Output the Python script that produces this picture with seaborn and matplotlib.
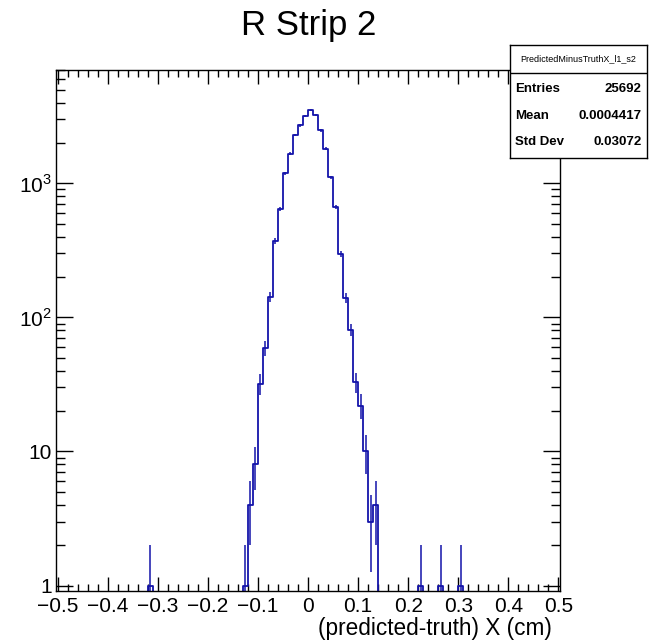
import numpy as np
import pandas as pd
import seaborn as sns
import matplotlib.pyplot as plt
from matplotlib.ticker import MultipleLocator, LogLocator, FuncFormatter, NullFormatter

# lower edge of each non-empty bin (bin width 0.01) and its content
bin_low = [-0.32, -0.13, -0.12, -0.11, -0.10, -0.09, -0.08, -0.07, -0.06, -0.05,
           -0.04, -0.03, -0.02, -0.01, 0.00, 0.01, 0.02, 0.03, 0.04, 0.05,
           0.06, 0.07, 0.08, 0.09, 0.10, 0.11, 0.12, 0.13, 0.22, 0.26, 0.30]
counts = [1, 1, 4, 8, 32, 59, 143, 370, 645, 1190,
          1660, 2300, 2700, 3170, 3541, 3210, 2480, 1810, 1110, 665,
          298, 139, 81, 33, 22, 10, 3, 4, 1, 1, 1]

hist_name = "PredictedMinusTruthX_l1_s2"
stat_names = ["Entries", "Mean", "Std Dev"]
stat_values = ["25692", "0.0004417", "0.03072"]

title = "R Strip 2"
xlabel = "(predicted-truth) X (cm)"

sns.set_style("ticks")
plt.rcParams["font.family"] = ["Liberation Sans", "DejaVu Sans"]
plt.rcParams["mathtext.fontset"] = "custom"
plt.rcParams["mathtext.rm"] = "Liberation Sans"
plt.rcParams["text.color"] = "black"

blue = "#1414aa"
width = 0.01
edges = np.round(np.arange(-0.52, 0.52 + width / 2, width), 3).tolist()
df = pd.DataFrame({"x": np.array(bin_low) + width / 2, "n": counts})

fig = plt.figure(figsize=(6.49, 6.44), dpi=100)
ax = fig.add_axes([56 / 649, 53 / 644, 504 / 649, 521 / 644])

sns.histplot(data=df, x="x", weights="n", bins=edges, element="step", fill=False,
             color=blue, linewidth=1.3, ax=ax)
ax.set_yscale("log")

# poisson error bars, ROOT style
err = np.sqrt(df["n"])
ax.vlines(df["x"], np.maximum(df["n"] - err, 1e-3), df["n"] + err, color=blue, lw=1.1)

ax.set_xlim(-0.503, 0.503)
ax.set_ylim(0.91, 7000)
ax.set_xlabel("")
ax.set_ylabel("")

ax.xaxis.set_major_locator(MultipleLocator(0.1))
ax.xaxis.set_minor_locator(MultipleLocator(0.02))
ax.xaxis.set_major_formatter(FuncFormatter(
    lambda v, p: ("%g" % round(v, 2)).replace("-", "\u2212") if abs(v) > 1e-9 else "0"))

ylabels = {1: "1", 10: "10", 100: "$10^{2}$", 1000: "$10^{3}$"}
ax.yaxis.set_major_locator(LogLocator(base=10))
ax.yaxis.set_minor_locator(LogLocator(base=10, subs=np.arange(2, 10)))
ax.yaxis.set_major_formatter(FuncFormatter(lambda v, p: ylabels.get(int(round(v)), "")))
ax.yaxis.set_minor_formatter(NullFormatter())

ax.tick_params(which="both", direction="in", top=True, right=True, width=1.0,
               colors="black", labelsize=15)
ax.tick_params(axis="x", which="major", length=10, pad=4)
ax.tick_params(axis="x", which="minor", length=5)
ax.tick_params(axis="y", which="major", length=12, pad=3)
ax.tick_params(axis="y", which="minor", length=6.5)
for s in ax.spines.values():
    s.set_linewidth(1.0)
    s.set_color("black")

fig.text(309 / 649, 1 - 25 / 644, title, ha="center", va="center", fontsize=25)
fig.text(552 / 649, 1 - 628 / 644, xlabel, ha="right", va="center", fontsize=16.3)

# stats box
sax = fig.add_axes([510 / 649, 1 - 158 / 644, 137 / 649, 113 / 644])
sax.set_facecolor("white")
sax.set_xticks([])
sax.set_yticks([])
sax.set_xlim(0, 1)
sax.set_ylim(0, 1)
for s in sax.spines.values():
    s.set_linewidth(1.0)
    s.set_color("black")
sax.axhline(0.752, color="black", lw=1.0)
sax.text(0.5, 0.875, hist_name, ha="center", va="center", fontsize=6.5)
for yy, name, val in zip([0.611, 0.372, 0.142], stat_names, stat_values):
    sax.text(0.04, yy, name, ha="left", va="center", fontsize=9.5, fontweight="bold")
    sax.text(0.96, yy, val, ha="right", va="center", fontsize=9.5, fontweight="bold")

fig.savefig("out.png", dpi=100)
